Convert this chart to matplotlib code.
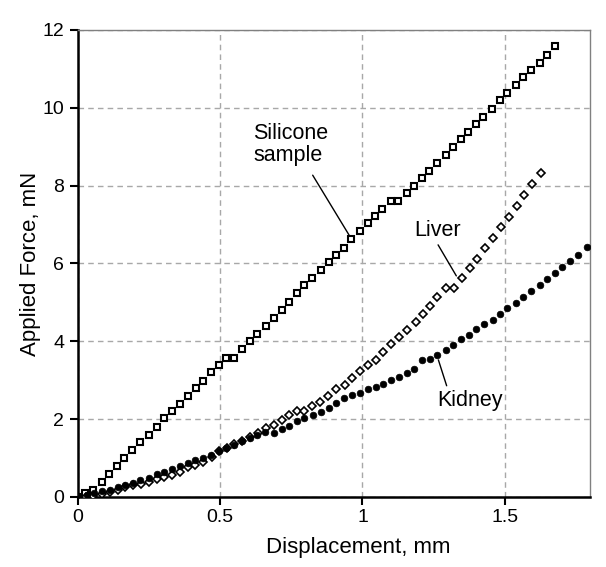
import matplotlib
matplotlib.use("Agg")
import matplotlib.pyplot as plt

plt.rcParams["font.family"] = ["Liberation Sans", "DejaVu Sans"]

# displacement (mm) / applied force (mN)
silicone_x = [0.0, 0.025, 0.052, 0.083, 0.11, 0.136, 0.163, 0.191, 0.218, 0.248,
              0.277, 0.303, 0.33, 0.357, 0.386, 0.414, 0.441, 0.467, 0.494, 0.52,
              0.549, 0.576, 0.606, 0.631, 0.661, 0.69, 0.717, 0.743, 0.77, 0.796,
              0.822, 0.855, 0.882, 0.907, 0.934, 0.96, 0.991, 1.019, 1.043, 1.069,
              1.099, 1.124, 1.155, 1.183, 1.208, 1.234, 1.261, 1.292, 1.318, 1.345,
              1.372, 1.398, 1.425, 1.457, 1.482, 1.509, 1.539, 1.565, 1.594, 1.623,
              1.648, 1.676]
silicone_y = [0.0, 0.09, 0.18, 0.39, 0.59, 0.79, 1.01, 1.20, 1.40, 1.59,
              1.79, 2.02, 2.20, 2.40, 2.60, 2.79, 2.97, 3.21, 3.40, 3.58,
              3.58, 3.79, 4.01, 4.20, 4.39, 4.60, 4.81, 5.02, 5.25, 5.44,
              5.63, 5.84, 6.03, 6.21, 6.41, 6.62, 6.83, 7.03, 7.21, 7.40,
              7.61, 7.61, 7.80, 7.99, 8.20, 8.38, 8.57, 8.79, 9.00, 9.19,
              9.38, 9.58, 9.77, 9.97, 10.20, 10.38, 10.58, 10.78, 10.97, 11.16,
              11.36, 11.58]

liver_x = [0.0, 0.027, 0.054, 0.086, 0.112, 0.139, 0.166, 0.193, 0.22, 0.25,
           0.277, 0.304, 0.33, 0.357, 0.385, 0.412, 0.441, 0.47, 0.496, 0.523,
           0.549, 0.576, 0.606, 0.633, 0.66, 0.688, 0.717, 0.743, 0.77, 0.796,
           0.823, 0.852, 0.88, 0.907, 0.937, 0.963, 0.993, 1.019, 1.046, 1.073,
           1.101, 1.128, 1.157, 1.187, 1.212, 1.237, 1.263, 1.293, 1.322, 1.349,
           1.377, 1.401, 1.43, 1.46, 1.486, 1.515, 1.542, 1.568, 1.597, 1.627]
liver_y = [0.0, 0.01, 0.02, 0.08, 0.13, 0.19, 0.25, 0.31, 0.33, 0.39,
           0.46, 0.52, 0.56, 0.65, 0.78, 0.82, 0.91, 1.03, 1.17, 1.27,
           1.36, 1.45, 1.54, 1.64, 1.77, 1.85, 1.99, 2.10, 2.21, 2.22,
           2.33, 2.44, 2.60, 2.77, 2.87, 3.07, 3.24, 3.38, 3.51, 3.73,
           3.94, 4.11, 4.30, 4.50, 4.71, 4.92, 5.15, 5.38, 5.38, 5.62,
           5.89, 6.12, 6.39, 6.65, 6.93, 7.19, 7.47, 7.77, 8.04, 8.32]

kidney_x = [0.0, 0.03, 0.056, 0.083, 0.113, 0.142, 0.165, 0.195, 0.218, 0.25,
            0.277, 0.304, 0.33, 0.357, 0.385, 0.412, 0.441, 0.468, 0.494, 0.521,
            0.549, 0.578, 0.606, 0.631, 0.658, 0.688, 0.717, 0.743, 0.77, 0.796,
            0.825, 0.855, 0.882, 0.907, 0.934, 0.962, 0.991, 1.019, 1.046, 1.073,
            1.099, 1.128, 1.155, 1.183, 1.21, 1.236, 1.263, 1.292, 1.319, 1.347,
            1.374, 1.400, 1.427, 1.459, 1.483, 1.509, 1.539, 1.565, 1.594, 1.623,
            1.65, 1.676, 1.703, 1.73, 1.758, 1.788]
kidney_y = [0.0, 0.05, 0.09, 0.15, 0.17, 0.25, 0.31, 0.37, 0.43, 0.49,
            0.58, 0.65, 0.72, 0.79, 0.87, 0.94, 1.00, 1.09, 1.17, 1.26,
            1.34, 1.43, 1.51, 1.60, 1.68, 1.65, 1.75, 1.83, 1.94, 2.02,
            2.10, 2.19, 2.28, 2.42, 2.55, 2.62, 2.68, 2.78, 2.83, 2.91,
            3.00, 3.08, 3.19, 3.28, 3.53, 3.54, 3.66, 3.77, 3.91, 4.05,
            4.17, 4.31, 4.44, 4.56, 4.69, 4.86, 4.98, 5.14, 5.29, 5.44,
            5.61, 5.75, 5.91, 6.06, 6.22, 6.42]

fig = plt.figure(figsize=(6.06, 5.67), dpi=100)
ax = fig.add_axes([0.1287, 0.1235, 0.8449, 0.8236])

ax.plot(silicone_x, silicone_y, "s", ls="none", ms=5.0, mfc="white",
        mec="black", mew=1.5, zorder=3)
ax.plot(liver_x, liver_y, "D", ls="none", ms=4.4, mfc="white",
        mec="black", mew=1.2, zorder=3)
ax.plot(kidney_x, kidney_y, "o", ls="none", ms=4.8, mfc="black",
        mec="black", mew=0.5, zorder=4)

ax.set_xlim(0, 1.8)
ax.set_ylim(0, 12)
ax.set_xticks([0, 0.5, 1, 1.5])
ax.set_xticklabels(["0", "0.5", "1", "1.5"])
ax.set_yticks(range(0, 13, 2))
ax.grid(True, color="#a8a8a8", ls=(0, (4, 3)), lw=1.0)
ax.set_axisbelow(True)

for s in ("left", "bottom"):
    ax.spines[s].set_linewidth(1.8)
    ax.spines[s].set_color("black")
for s in ("top", "right"):
    ax.spines[s].set_linewidth(1.0)
    ax.spines[s].set_color("#808080")
ax.tick_params(direction="out", length=6, width=1.5, labelsize=14,
               colors="black", pad=3)
ax.tick_params(axis="y", pad=4)

ax.set_xlabel("Displacement, mm", fontsize=16)
ax.xaxis.set_label_coords(0.547, -0.085)
ax.set_ylabel("Applied Force, mN", fontsize=16)
ax.yaxis.set_label_coords(-0.072, 0.5)

# callouts
ax.text(0.616, 9.62, "Silicone\nsample", fontsize=15.5, ha="left", va="top",
        linespacing=1.1)
ax.annotate("", xy=(0.958, 6.67), xytext=(0.82, 8.33),
            arrowprops=dict(arrowstyle="-", color="black", lw=1.0))
ax.text(1.183, 7.12, "Liver", fontsize=15.5, ha="left", va="top")
ax.annotate("", xy=(1.335, 5.62), xytext=(1.261, 6.54),
            arrowprops=dict(arrowstyle="-", color="black", lw=1.0))
ax.text(1.264, 2.76, "Kidney", fontsize=15.5, ha="left", va="top")
ax.annotate("", xy=(1.264, 3.59), xytext=(1.299, 2.79),
            arrowprops=dict(arrowstyle="-", color="black", lw=1.0))

fig.savefig("out.png", dpi=100)
